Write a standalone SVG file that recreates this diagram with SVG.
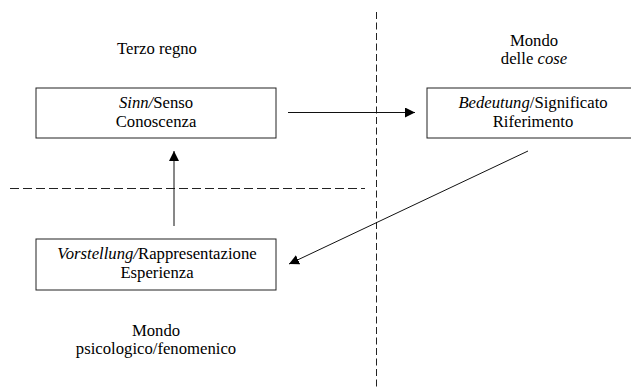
<svg xmlns="http://www.w3.org/2000/svg" width="631" height="387" viewBox="0 0 631 387">
<style>
text{font-family:"Liberation Serif",serif;font-size:16.7px;fill:#000;text-anchor:middle}
.i{font-style:italic}
.box{fill:#fff;stroke:#222;stroke-width:1}
.ln{stroke:#111;stroke-width:1;fill:none}
.dash{stroke:#222;stroke-width:1;fill:none}
</style>
<defs>
<marker id="ah" viewBox="0 0 10 10" refX="10" refY="5" markerWidth="10" markerHeight="10" markerUnits="userSpaceOnUse" orient="auto">
<path d="M0,0 L10,5 L0,10 Z" fill="#000"/>
</marker>
</defs>
<g id="dividers">
<line class="dash" x1="376.5" y1="12" x2="376.5" y2="387" stroke-dasharray="7,3.5"/>
<line class="dash" x1="10" y1="188.5" x2="365" y2="188.5" stroke-dasharray="9,4"/>
</g>
<g id="label-terzo"><text x="157" y="54">Terzo regno</text></g>
<g id="label-cose"><text x="534" y="46">Mondo</text><text x="534" y="64">delle <tspan class="i">cose</tspan></text></g>
<g id="label-psico"><text x="156" y="336">Mondo</text><text x="156" y="354">psicologico/fenomenico</text></g>
<g id="node-sinn">
<rect class="box" x="36" y="88" width="240" height="50"/>
<text x="156" y="108"><tspan class="i">Sinn/</tspan>Senso</text>
<text x="156" y="127">Conoscenza</text>
</g>
<g id="node-bedeutung">
<rect class="box" x="427" y="88" width="220" height="50"/>
<text x="533" y="108"><tspan class="i">Bedeutung</tspan>/Significato</text>
<text x="533" y="127">Riferimento</text>
</g>
<g id="node-vorstellung">
<rect class="box" x="36" y="239" width="240" height="51"/>
<text x="157" y="259"><tspan class="i">Vorstellung/</tspan>Rappresentazione</text>
<text x="157" y="278">Esperienza</text>
</g>
<g id="connectors">
<line class="ln" x1="288" y1="112.5" x2="415" y2="112.5" marker-end="url(#ah)"/>
<line class="ln" x1="174" y1="226" x2="174" y2="151" marker-end="url(#ah)"/>
<line class="ln" x1="528" y1="151" x2="289" y2="264" marker-end="url(#ah)"/>
</g>
</svg>
